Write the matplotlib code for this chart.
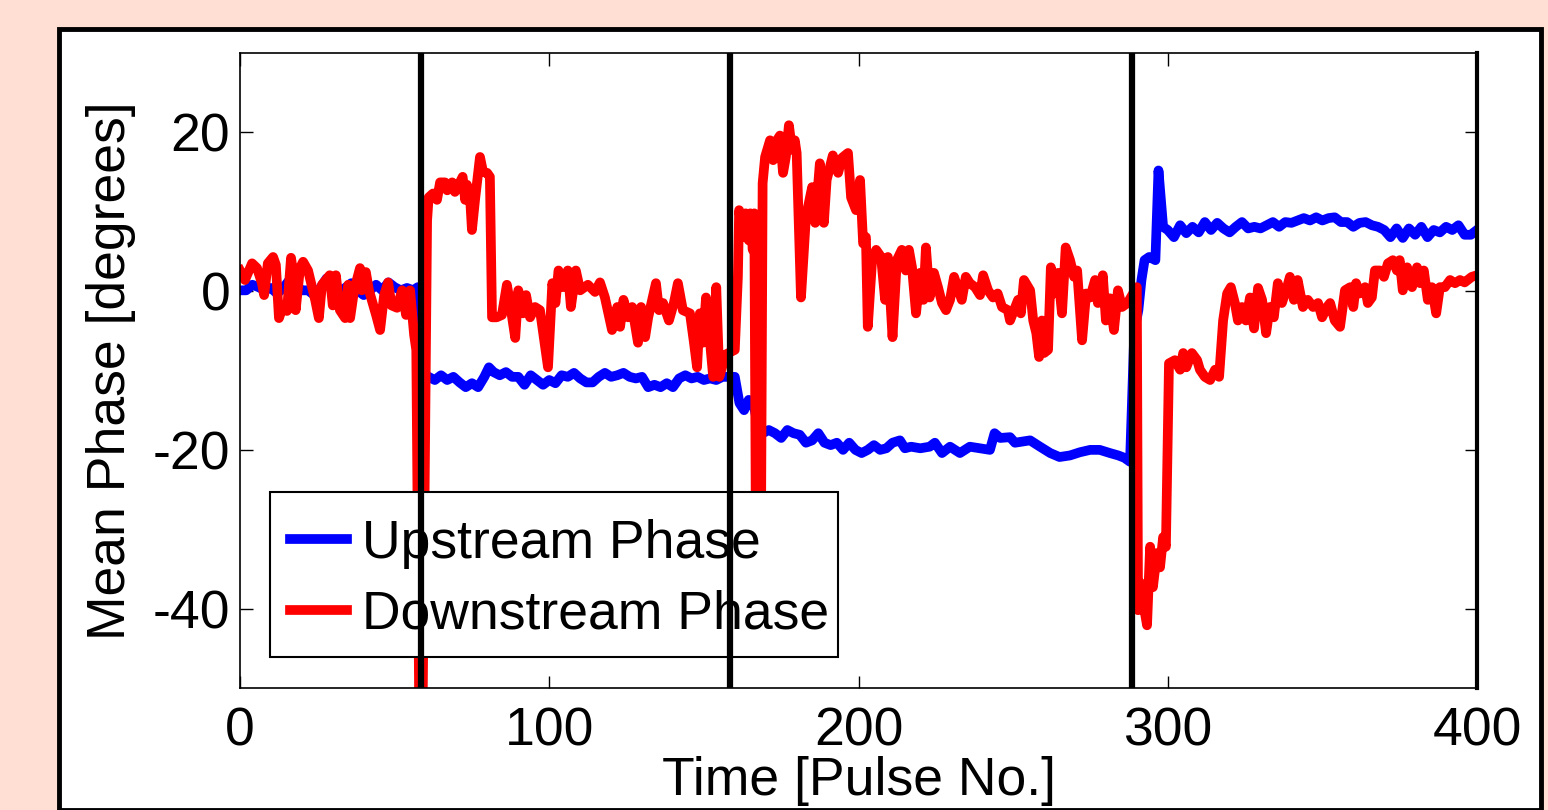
import matplotlib
matplotlib.use("Agg")
import matplotlib.pyplot as plt
from matplotlib.patches import Rectangle

plt.rcParams['font.family'] = ['Liberation Sans', 'DejaVu Sans']

# pulse positions where the operating point was changed
event_pulses = [58.5, 158.5, 288.5]

# upstream phase (blue)
up_pulse = [0, 2, 4, 6, 8, 10, 12, 14, 16, 18, 20, 22, 24, 26, 28, 30, 32, 34, 36, 38,
            40, 42, 44, 46, 48, 50, 52, 54, 56, 57.5,
            59, 61, 63, 65, 67, 69, 71, 73, 75, 77, 79, 80.5, 82, 84, 86, 88, 90, 92, 94, 96,
            98, 100, 102, 104, 106, 108, 110, 112, 114, 116, 118, 120, 122, 124, 126, 128,
            130, 132, 134, 136, 138, 140, 142, 144, 146, 148, 150, 152, 154, 156, 158,
            160, 161.5, 163, 164.5, 166, 168, 169, 171, 173, 175, 177, 179, 181, 183, 185,
            187, 189, 191, 193, 195, 197, 199, 201, 203, 205, 207, 209, 211, 213.4, 215, 217,
            220, 223, 224.7, 227, 229.6, 232.8, 236, 239.3, 242.5, 244, 245.8, 249, 250.6,
            255.5, 258.7, 262, 265, 268.4, 271.6, 274.9, 278, 281.3, 284, 286, 287.8,
            289.2, 290.5, 291.5, 292.5, 294, 296, 297, 298.5, 300, 302, 304, 306, 308, 310,
            312, 314, 316, 318, 320, 322, 324, 326, 328, 330, 332, 334, 336, 338, 340, 342,
            344, 346, 348, 350, 352, 354, 356, 358, 360, 362, 364, 366, 368, 370, 372, 374,
            376, 378, 380, 382, 384, 386, 388, 390, 392, 394, 396, 398, 400]
up_phase = [0.1, 0.1, 0.8, 0.5, 0.1, 0.4, -0.3, 0.4, 1.4, 0.8, 0.1, 0.1, -0.5, 0.4, 1.6,
            0.8, -0.1, 0.4, 1.0, 0.1, -0.5, 0.1, 0.8, 0.1, 1.1, 0.5, 0.1, 0.4, 0.1, 0.5,
            -10.3, -10.8, -11.2, -10.6, -11.2, -10.8, -11.5, -12.1, -11.6, -12.1, -10.8, -9.6,
            -10.2, -10.6, -10.2, -10.8, -10.8, -11.8, -10.6, -11.2, -11.8, -11.2, -11.6, -10.6,
            -10.8, -10.3, -11.0, -11.5, -11.5, -10.8, -10.3, -10.8, -10.6, -10.3, -10.8, -11.0,
            -10.8, -12.1, -11.8, -12.1, -11.6, -12.1, -11.0, -10.6, -11.0, -10.8, -11.2, -11.0,
            -11.2, -10.8, -10.8,
            -10.8, -14.1, -15.0, -13.7, -14.1, -18.0, -17.9, -17.5, -17.9, -18.5, -17.5, -17.9,
            -18.1, -19.1, -18.8, -17.9, -19.1, -19.4, -19.1, -20.0, -19.1, -20.0, -20.4, -20.0,
            -19.4, -20.0, -19.8, -19.1, -18.8, -19.8, -19.6, -19.8, -19.6, -19.1, -20.4, -19.6,
            -20.4, -19.6, -19.8, -20.0, -17.9, -18.5, -18.4, -19.1, -18.8, -19.6, -20.4, -20.9,
            -20.7, -20.3, -20.0, -20.0, -20.4, -20.7, -21.0, -21.5,
            -5.0, -2.4, 1.4, 3.9, 4.3, 3.9, 15.2, 8.1, 7.7, 6.8, 8.3, 7.3, 8.1, 7.4, 8.7, 7.7,
            8.6, 7.9, 7.4, 8.1, 8.7, 7.9, 8.1, 7.9, 8.3, 8.7, 8.1, 8.7, 8.6, 8.9, 9.2, 8.9, 9.3,
            8.9, 9.2, 9.3, 8.7, 8.7, 8.1, 8.6, 8.7, 8.3, 8.1, 7.7, 6.8, 7.9, 6.7, 7.9, 7.1, 8.1,
            6.8, 7.7, 7.4, 8.1, 7.7, 8.3, 7.1, 7.1, 7.7]

# downstream phase (red)
down_pulse = [0, 1.6, 3.9, 5.5, 7.1, 7.8, 9, 10.7, 11.6, 12.6, 14, 15.2, 16.5, 17.5, 18,
              19.4, 20.4, 22, 24.3, 25.5, 26.5, 29, 30, 31, 32.3, 34, 35, 35.6, 36.9, 38.8,
              39.4, 40.7, 41.7, 44, 45.3, 46.6, 47.9, 49, 50.8, 52.4, 53.7, 55, 56.3, 57,
              58.0, 59.0, 60.5, 61, 62.4, 63.7, 64.7, 66.3, 67, 68.6, 69.5, 71, 72, 72.8,
              73.4, 74.4, 75, 76, 77, 77.6, 78.6, 79.9, 80.8, 81.5, 83, 84.7, 86.3, 87.3, 89,
              90, 91.5, 92.5, 93.8, 95.4, 97, 99.6, 101, 102, 103, 104.4, 106, 107, 108.6,
              110, 112.5, 114.8, 116.4, 118, 120.3, 122, 122.9, 124, 125.5, 126.8, 128.7,
              129.7, 131, 132, 134.5, 135.5, 136.8, 138.7, 140.3, 141.6, 143.2, 145.5, 146.8,
              147.8, 148.7, 149.7, 150.7, 152, 153, 154, 155, 157, 160, 161, 161.4, 162.6,
              163.5, 164.5, 165, 165.8, 166.3, 167, 168.3, 169, 169.8, 171.4, 172.4, 173.3,
              174.6, 175.6, 176.5, 177.5, 178.5, 179.4, 180, 181.4, 183, 185, 186, 187.5,
              188.8, 189.7, 191.7, 193.4, 194.7, 196.6, 197.6, 199.2, 200.5, 201.5, 202.4,
              203, 204.4, 205.7, 207.3, 208.6, 209.5, 211, 212.4, 214, 215.3, 216.3, 217.3,
              218.6, 219.9, 221, 221.8, 223, 224.4, 225.7, 227, 228.3, 229.6, 230.9, 232,
              233.4, 234.7, 236, 237.7, 239.3, 240.3, 241.9, 243.5, 245, 246.4, 248.3, 249,
              250.6, 251.6, 252.5, 253.5, 255.5, 256.5, 257.5, 258.4, 259.3, 260, 261.3,
              262.2, 263.2, 264.5, 265.8, 267, 268.4, 269.7, 270.7, 272.3, 273.6, 274.9,
              276.5, 277.4, 279, 280, 281.3, 282.6, 283.9, 285.2, 287, 290, 290.4, 291.3,
              292.3, 293.3, 294.3, 295.2, 296.5, 297.5, 298.5, 299.4, 300.4, 302.3, 304, 305,
              306, 307.8, 309.5, 310.4, 312, 313.7, 315.3, 316.6, 317.9, 319.2, 320.4, 321.7,
              322.7, 324, 325.3, 326.6, 327.9, 329.2, 330.5, 331.8, 333, 334.3, 335.6, 336.9,
              338.6, 339.5, 340.8, 342, 343.7, 345.3, 347, 348.6, 349.9, 351.5, 352.5, 354,
              355.7, 357.3, 359, 360, 360.9, 362, 363.8, 364.7, 366, 367, 368.6, 369.9, 371.2,
              372.8, 374.1, 375, 376, 377.4, 379, 380.6, 381.6, 382.8, 384.1, 385.4, 386.8,
              388, 389.6, 391.3, 392.9, 394.5, 396, 398.3, 400]
down_phase = [2.6, 1.4, 3.5, 2.9, 1.0, -0.5, 3.5, 4.3, 3.3, -3.4, -1.8, -2.5, 4.2, 1.4, -2.4,
              2.9, 3.7, 2.6, -1.1, -3.4, 0.8, 2.0, -1.8, 2.0, -2.4, -3.4, 0.8, -3.4, 0.1, 2.9,
              0.1, 2.4, 0.1, -3.0, -4.9, -0.5, 1.1, -1.8, -2.1, 0.1, -3.0, 0.1, -5.5, -7.4,
              -55, -55, 8.9, 11.8, 12.3, 11.5, 13.7, 13.7, 12.7, 13.7, 12.5, 13.6, 14.4, 11.5,
              13.4, 11.8, 7.7, 11.5, 14.9, 16.9, 15.0, 14.9, 14.4, -3.3, -3.3, -3.0, 0.8, -1.5,
              -5.9, 0.1, -2.8, -0.5, -3.3, -2.0, -2.4, -9.6, 1.0, -1.5, 2.6, 0.5, 2.6, -2.0,
              2.6, 0.1, 0.8, -0.1, 1.1, -0.8, -4.9, -2.0, -4.5, -1.1, -3.3, -2.0, -6.5, -2.0,
              -5.8, -3.3, 1.0, -2.4, -1.5, -3.7, -1.5, 1.0, -2.4, -2.8, -6.5, -9.6, -2.8, -6.5,
              -0.8, -6.5, -10.8, 0.5, -10.8, -8.0, -7.4, 1.8, 10.2, 6.8, 9.8, 6.4, 9.8, 5.2,
              9.8, -45, -45, 13.6, 16.9, 19.0, 16.5, 18.8, 19.6, 14.9, 16.9, 20.9, 17.8, 19.0,
              17.4, -0.8, 9.3, 13.1, 8.6, 16.1, 8.6, 14.0, 17.1, 14.9, 16.8, 17.4, 11.8, 10.2,
              14.0, 6.0, 6.8, -4.5, 3.9, 5.2, 4.3, -1.1, 4.3, -5.8, 3.9, 5.2, 2.6, 5.2, 3.0,
              -2.8, 2.3, -1.1, 5.5, -0.8, 2.3, 0.5, -1.5, -2.4, -1.1, 1.8, 0.5, -1.1, 1.8, 1.0,
              0.5, -0.5, 2.0, 0.1, -0.8, -0.3, -2.0, -2.4, -3.7, -2.1, -1.1, -2.8, 1.4, 0.1,
              -3.7, -5.3, -8.3, -3.7, -7.8, -7.4, 3.0, -0.3, 2.3, -2.8, 5.5, 3.9, 1.8, 2.6,
              -6.2, -0.3, -0.8, 1.4, -1.5, 2.0, -3.7, -0.9, -4.9, 0.1, -2.0, -1.5, 0.5, -40.2,
              -36.8, -39.8, -42.1, -32.2, -37.3, -33.0, -34.8, -31.0, -32.2, -9.1, -8.7, -9.9,
              -7.8, -9.6, -7.8, -8.7, -9.9, -10.8, -11.2, -9.9, -10.8, -3.7, -0.3, 0.5, -1.5,
              -3.7, -2.0, -3.7, -0.8, -4.7, 0.4, -1.1, -5.3, -2.0, -3.3, 1.0, -1.5, 0.5, 1.8,
              -1.1, 1.4, -2.0, -1.1, -2.0, -1.5, -3.3, -2.0, -1.5, -3.7, -4.5, 0.1, 0.5, -2.0,
              1.0, -0.3, 0.5, -1.5, -0.8, 2.6, 2.6, 1.8, 3.5, 3.9, 2.6, 3.9, 0.1, 3.0, 0.5, 3.0,
              1.0, 2.6, -1.1, 0.5, -2.8, 0.5, 0.5, 1.4, 1.0, 1.4, 1.1, 1.8, 2.0]

fig = plt.figure(figsize=(15.48, 8.10), dpi=100)
fig.patch.set_facecolor('#FFDED3')

# white panel with a heavy black frame, kept behind the axes
W, H = 1548, 810
panel = Rectangle((59 / W, 1 - 809.5 / H), (1541 - 59) / W, (809.5 - 28.5) / H,
                  transform=fig.transFigure, facecolor='white', edgecolor='black',
                  linewidth=3.5, zorder=-5)
fig.patches.append(panel)

ax = fig.add_axes([240 / W, 1 - 688 / H, (1477 - 240) / W, (688 - 53) / H], zorder=2)
ax.set_facecolor('white')

ax.plot(up_pulse, up_phase, color='#0000FF', linewidth=7, label='Upstream Phase',
        solid_joinstyle='round', zorder=2)
ax.plot(down_pulse, down_phase, color='#FF0000', linewidth=7, label='Downstream Phase',
        solid_joinstyle='round', zorder=2.1)

ax.set_xlim(0, 400)
ax.set_ylim(-50, 30)
ax.set_xticks([0, 100, 200, 300, 400])
ax.set_yticks([-40, -20, 0, 20])
ax.set_yticklabels(['-40', '-20', '0', '20'])
ax.tick_params(direction='in', length=9, width=1, labelsize=38.5,
               top=True, right=True)
ax.tick_params(axis='x', pad=13)
ax.tick_params(axis='y', pad=7)

for side in ['left', 'top', 'bottom']:
    ax.spines[side].set_linewidth(1.2)
ax.spines['right'].set_linewidth(3)

ax.set_xlabel('Time [Pulse No.]', fontsize=38.5, labelpad=0)
ax.set_ylabel('Mean Phase [degrees]', fontsize=38.5, labelpad=12)

# legend box drawn by hand so its padding can match the original
box = Rectangle((0.0243, 0.0488), 0.4591, 0.2599, transform=ax.transAxes,
                facecolor='white', edgecolor='black', linewidth=1.5, zorder=9)
ax.add_patch(box)
leg = ax.legend(loc='upper left', bbox_to_anchor=(0.0404, 0.2661), fontsize=38.5,
                frameon=False, handlelength=1.07, handletextpad=0.28,
                labelspacing=0.39, borderpad=0, borderaxespad=0)
leg.set_zorder(10)

# event markers sit above the legend, as in the original
for p in event_pulses:
    ax.axvline(p, color='black', linewidth=4.5, zorder=20)

fig.savefig('out.png', dpi=100, facecolor=fig.get_facecolor())
